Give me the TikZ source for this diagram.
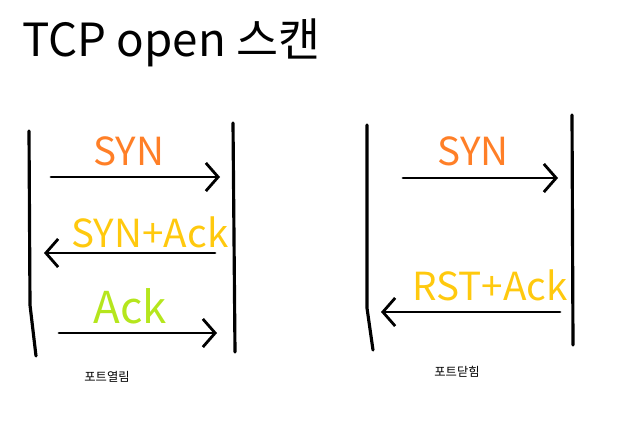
\documentclass[tikz,border=0pt]{standalone}
\usepackage{fontspec}
\setmainfont{Noto Sans CJK KR}
\usetikzlibrary{arrows.meta}
\definecolor{paintorange}{HTML}{FF7F27}
\definecolor{paintyellow}{HTML}{FFC90E}
\definecolor{paintgreen}{HTML}{B5E61D}
\tikzset{
  lifeline/.style={line width=1.8pt, line cap=round, line join=round},
  msg/.style={line width=1.6pt, line cap=round, -{Straight Barb[length=7pt,width=16pt,line width=1.6pt]}},
  msglabel/.style={anchor=base, inner sep=0pt, font=\fontsize{22}{26}\selectfont},
  smalllabel/.style={anchor=center, inner sep=0pt, font=\fontsize{7}{8}\selectfont},
}
\begin{document}
\begin{tikzpicture}[x=0.02cm, y=-0.02cm]
\useasboundingbox (0,0) rectangle (638,436);
% title
\node[anchor=base west, inner sep=0pt, font=\fontsize{26}{30}\selectfont] (title) at (22,56) {TCP open 스캔};

% ---------- left diagram (port open) ----------
\coordinate (A1top) at (29,131);
\coordinate (A1mid) at (30,305);
\coordinate (A1bot) at (36,356);
\coordinate (B1top) at (233,123);
\coordinate (B1bot) at (235,352);
\draw[lifeline] (A1top) -- (A1mid) -- (A1bot);
\draw[lifeline] (B1top) -- (B1bot);

\coordinate (s1a) at (51,177);
\coordinate (s1b) at (220,177);
\draw[msg] (s1a) -- (s1b);
\node[msglabel, text=paintorange] (syn1) at (129,165) {SYN};

\coordinate (s2a) at (215,253);
\coordinate (s2b) at (44,253);
\draw[msg] (s2a) -- (s2b);
\node[msglabel, text=paintyellow, font=\fontsize{22}{26}\selectfont] (synack) at (150,247) {SYN+Ack};

\coordinate (s3a) at (59,333);
\coordinate (s3b) at (217,333);
\draw[msg] (s3a) -- (s3b);
\node[msglabel, text=paintgreen, font=\fontsize{25}{30}\selectfont] (ack) at (130,323) {Ack};

\node[smalllabel] (openlbl) at (107,377) {포트열림};

% ---------- right diagram (port closed) ----------
\coordinate (A2top) at (367,125);
\coordinate (A2mid) at (367,308);
\coordinate (A2bot) at (373,350);
\coordinate (B2top) at (572,115);
\coordinate (B2bot) at (573,345);
\draw[lifeline] (A2top) -- (A2mid) -- (A2bot);
\draw[lifeline] (B2top) -- (B2bot);

\coordinate (t1a) at (403,178);
\coordinate (t1b) at (558,178);
\draw[msg] (t1a) -- (t1b);
\node[msglabel, text=paintorange] (syn2) at (473,165) {SYN};

\coordinate (t2a) at (560,312);
\coordinate (t2b) at (381,312);
\draw[msg] (t2a) -- (t2b);
\node[msglabel, text=paintyellow, font=\fontsize{22}{26}\selectfont] (rstack) at (490,300) {RST+Ack};

\node[smalllabel] (closedlbl) at (457,372) {포트닫힘};
\end{tikzpicture}
\end{document}
